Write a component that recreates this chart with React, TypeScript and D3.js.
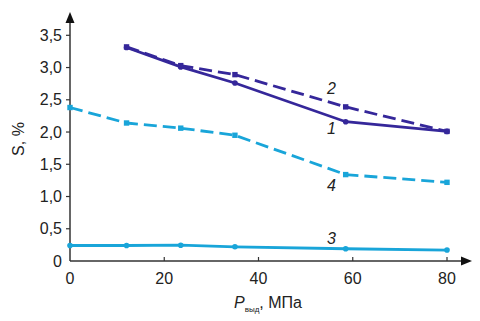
import React from "react";
import * as d3 from "d3";

const xTicks = [0, 20, 40, 60, 80];
const yTicks = [0, 0.5, 1.0, 1.5, 2.0, 2.5, 3.0, 3.5];
const yTickLabels = ["0", "0,5", "1,0", "1,5", "2,0", "2,5", "3,0", "3,5"];

const pressure1 = [12, 23.5, 35, 58.5, 80];
const series1 = [3.31, 3.01, 2.76, 2.16, 2.01];
const pressure2 = [12, 23.5, 35, 58.5, 80];
const series2 = [3.32, 3.03, 2.89, 2.39, 2.01];
const pressure3 = [0, 12, 23.5, 35, 58.5, 80];
const series3 = [0.24, 0.24, 0.245, 0.22, 0.19, 0.17];
const pressure4 = [0, 12, 23.5, 35, 58.5, 80];
const series4 = [2.38, 2.14, 2.06, 1.95, 1.34, 1.22];

const curveLabels = ["1", "2", "3", "4"];
const labelPos = [
  [55.5, 2.05],
  [55.5, 2.68],
  [55.5, 0.35],
  [55.5, 1.18],
];

const DARK = "#35279a";
const LIGHT = "#19a5d9";

export default function App() {
  const W = 480, H = 321;
  const x = d3.scaleLinear().domain([0, 80]).range([70, 447]);
  const y = d3.scaleLinear().domain([0, 3.5]).range([261, 35.3]);
  const line = d3.line<[number, number]>().x(d => x(d[0])).y(d => y(d[1]));
  const series = [
    { xs: pressure1, ys: series1, color: DARK, dash: undefined },
    { xs: pressure2, ys: series2, color: DARK, dash: "13,6" },
    { xs: pressure3, ys: series3, color: LIGHT, dash: undefined },
    { xs: pressure4, ys: series4, color: LIGHT, dash: "13,6" },
  ];
  const font = "'Liberation Sans', Arial, sans-serif";
  return (
    <svg width={W} height={H} style={{ position: "absolute", left: 0, top: 0, background: "#fff" }} fontFamily={font}>
      <line x1={70} y1={y(0)} x2={464} y2={y(0)} stroke="#333" strokeWidth={1.5} />
      <line x1={70} y1={y(0)} x2={70} y2={20} stroke="#333" strokeWidth={1.5} />
      <path d={`M70,12 L65.5,23 L74.5,23 Z`} fill="#111" />
      <path d={`M472,${y(0)} L461,${y(0) - 4.5} L461,${y(0) + 4.5} Z`} fill="#111" />
      {yTicks.map((t, i) => (
        <g key={i}>
          {i > 0 && <line x1={66} x2={70} y1={y(t)} y2={y(t)} stroke="#333" strokeWidth={1.2} />}
          <text x={62} y={y(t)} dy="0.35em" textAnchor="end" fontSize={16} fill="#222">{yTickLabels[i]}</text>
        </g>
      ))}
      {xTicks.map((t, i) => (
        <g key={i}>
          {i > 0 && <line x1={x(t)} x2={x(t)} y1={y(0)} y2={y(0) - 4} stroke="#333" strokeWidth={1.2} />}
          <text x={x(t)} y={278} dy="0.35em" textAnchor="middle" fontSize={16} fill="#222">{t}</text>
        </g>
      ))}
      {series.map((s, i) => {
        const pts = s.xs.map((v, j) => [v, s.ys[j]] as [number, number]);
        return (
          <g key={i}>
            <path d={line(pts) || ""} fill="none" stroke={s.color} strokeWidth={2.8} strokeDasharray={s.dash} />
            {pts.map((p, j) => (
              s.dash ? (
                <rect key={j} x={x(p[0]) - 2.7} y={y(p[1]) - 2.7} width={5.4} height={5.4} fill={s.color} />
              ) : (
                <circle key={j} cx={x(p[0])} cy={y(p[1])} r={2.8} fill={s.color} />
              )
            ))}
          </g>
        );
      })}
      {curveLabels.map((l, i) => (
        <text key={i} x={x(labelPos[i][0])} y={y(labelPos[i][1])} dy="0.35em" textAnchor="middle" fontSize={16} fontStyle="italic" fill="#222">{l}</text>
      ))}
      <text x={268} y={302} dy="0.35em" textAnchor="middle" fontSize={16} fill="#222">
        <tspan fontStyle="italic">P</tspan>
        <tspan fontSize={8} dy="4">выд</tspan>
        <tspan dy="-4">, МПа</tspan>
      </text>
      <text transform={`translate(18,139) rotate(-90)`} dy="0.35em" textAnchor="middle" fontSize={16} fill="#222">S, %</text>
    </svg>
  );
}
